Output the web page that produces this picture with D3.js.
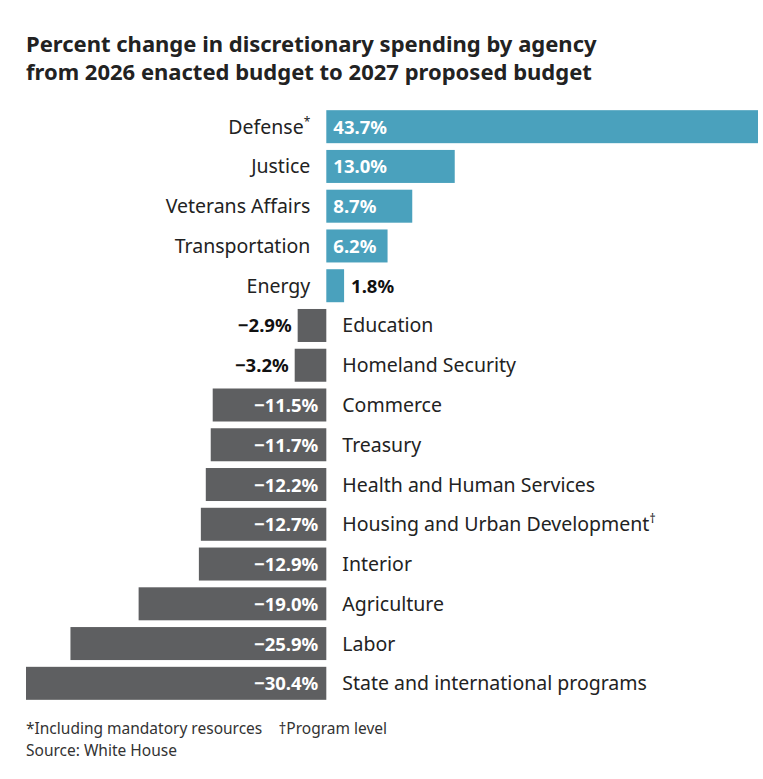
<!DOCTYPE html>
<html><head><meta charset="utf-8">
<script src="https://cdn.jsdelivr.net/npm/d3@7"></script>
<style>
body{margin:0;background:#fff;font-family:"Noto Sans",sans-serif;}
</style></head>
<body><svg id="chart" width="763" height="779"></svg>
<script>
// data
const agencies = ["Defense","Justice","Veterans Affairs","Transportation","Energy","Education","Homeland Security","Commerce","Treasury","Health and Human Services","Housing and Urban Development","Interior","Agriculture","Labor","State and international programs"];
const changes = [43.7,13.0,8.7,6.2,1.8,-2.9,-3.2,-11.5,-11.7,-12.2,-12.7,-12.9,-19.0,-25.9,-30.4];
const marks = {"Defense":"*","Housing and Urban Development":"†"};

const svg = d3.select("#chart");
const x = d3.scaleLinear().domain([-30.4,43.7]).range([26,758]);
const y = d3.scaleBand().domain(agencies).range([107,703]).paddingInner(0.17).paddingOuter(0.08);
const fmt = v => (v<0?"−":"")+Math.abs(v).toFixed(1)+"%";

svg.append("text").attr("x",26).attr("y",52).attr("font-size",22).attr("font-weight",700).attr("fill","#222")
  .text("Percent change in discretionary spending by agency");
svg.append("text").attr("x",26).attr("y",80).attr("font-size",22).attr("font-weight",700).attr("fill","#222")
  .text("from 2026 enacted budget to 2027 proposed budget");

const data = agencies.map((a,i)=>({a, v:changes[i]}));
const g = svg.append("g");
const row = g.selectAll("g").data(data).join("g");

row.append("rect")
  .attr("x",d=>x(Math.min(0,d.v))).attr("width",d=>Math.abs(x(d.v)-x(0)))
  .attr("y",d=>y(d.a)).attr("height",y.bandwidth())
  .attr("fill",d=>d.v>0?"#4aa1bd":"#5e5f61");

const cy = d => y(d.a)+y.bandwidth()/2+7;

// value labels
row.append("text")
  .attr("font-size",18.5).attr("font-weight",700)
  .attr("x",d=>{const w=Math.abs(x(d.v)-x(0)); if(d.v>0) return w>50? x(0)+7 : x(d.v)+7; return w>50? x(0)-8 : x(d.v)-6;})
  .attr("y",cy)
  .attr("text-anchor",d=>d.v>0?"start":"end")
  .attr("fill",d=>Math.abs(x(d.v)-x(0))>50?"#fff":"#111")
  .text(d=>fmt(d.v));

// agency names
const nm = row.append("text")
  .attr("font-size",19.5).attr("fill","#222")
  .attr("x",d=>d.v>0?x(0)-16:x(0)+16).attr("y",cy)
  .attr("text-anchor",d=>d.v>0?"end":"start");
nm.append("tspan").text(d=>d.a);
nm.filter(d=>marks[d.a]).append("tspan").attr("font-size",12).attr("dy",-8).text(d=>marks[d.a]);

svg.append("text").attr("x",26).attr("y",734).attr("font-size",15.5).attr("fill","#333")
  .attr("xml:space","preserve").style("white-space","pre")
  .text("*Including mandatory resources    †Program level");
svg.append("text").attr("x",26).attr("y",756).attr("font-size",15.5).attr("fill","#333")
  .text("Source: White House");
</script></body></html>
